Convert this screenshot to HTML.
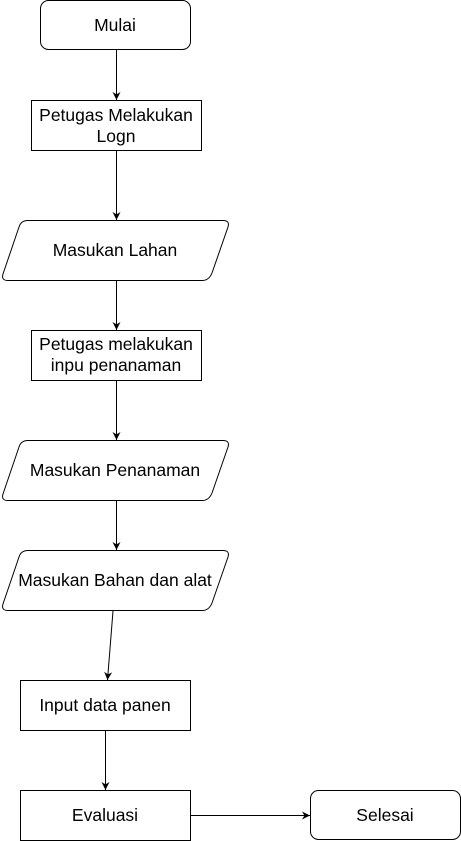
<!DOCTYPE html>
<html><head><style>body{margin:0;background:#fff}svg{display:block}text{font-family:"Liberation Sans",Arial,sans-serif;font-size:17.5px;fill:#000;text-anchor:middle}</style></head>
<body>
<svg width="461" height="841" viewBox="0 0 461 841">
<defs><marker id="a" viewBox="0 0 10 10" refX="10" refY="5" markerWidth="8" markerHeight="8" orient="auto" markerUnits="userSpaceOnUse"><path d="M0,0 L10,5 L0,10 L3,5 z" fill="#000"/></marker></defs>
<g fill="#fff" stroke="#000" stroke-width="1">
<rect x="40.5" y="0.5" width="150" height="49" rx="8"/>
<rect x="31.5" y="100.5" width="170" height="50"/>
<path d="M28,220.5 H223 Q230,220.5 228,227 L212,273 Q209,280.5 202,280.5 H8 Q1,280.5 3,274 L19,227 Q21,220.5 28,220.5 Z"/>
<rect x="31.5" y="330.5" width="170" height="50"/>
<path d="M28,440.5 H223 Q230,440.5 228,447 L212,493 Q209,500.5 202,500.5 H8 Q1,500.5 3,494 L19,447 Q21,440.5 28,440.5 Z"/>
<path d="M28,550.5 H223 Q230,550.5 228,557 L212,603 Q209,610.5 202,610.5 H8 Q1,610.5 3,604 L19,557 Q21,550.5 28,550.5 Z"/>
<rect x="20.5" y="680.5" width="170" height="50"/>
<rect x="20.5" y="790.5" width="170" height="50"/>
<rect x="310.5" y="790.5" width="150" height="49" rx="8"/>
</g>
<g stroke="#000" stroke-width="1" fill="none" marker-end="url(#a)">
<line x1="116.5" y1="50" x2="116.5" y2="100"/>
<line x1="116.5" y1="151" x2="116.5" y2="220"/>
<line x1="116.5" y1="281" x2="116.5" y2="330"/>
<line x1="116.5" y1="381" x2="116.5" y2="440"/>
<line x1="116.5" y1="501" x2="116.5" y2="550"/>
<line x1="113" y1="611" x2="107.5" y2="680"/>
<line x1="105.5" y1="731" x2="105.5" y2="790"/>
<line x1="191" y1="815.5" x2="310" y2="815.5"/>
</g>
<text x="115" y="31">Mulai</text>
<text x="116" y="121">Petugas Melakukan</text>
<text x="116" y="142">Logn</text>
<text x="115" y="256">Masukan Lahan</text>
<text x="116" y="350">Petugas melakukan</text>
<text x="116" y="371">inpu penanaman</text>
<text x="115" y="476">Masukan Penanaman</text>
<text x="115" y="586">Masukan Bahan dan alat</text>
<text x="105" y="711">Input data panen</text>
<text x="105" y="821">Evaluasi</text>
<text x="385" y="821">Selesai</text>
</svg>
</body></html>
